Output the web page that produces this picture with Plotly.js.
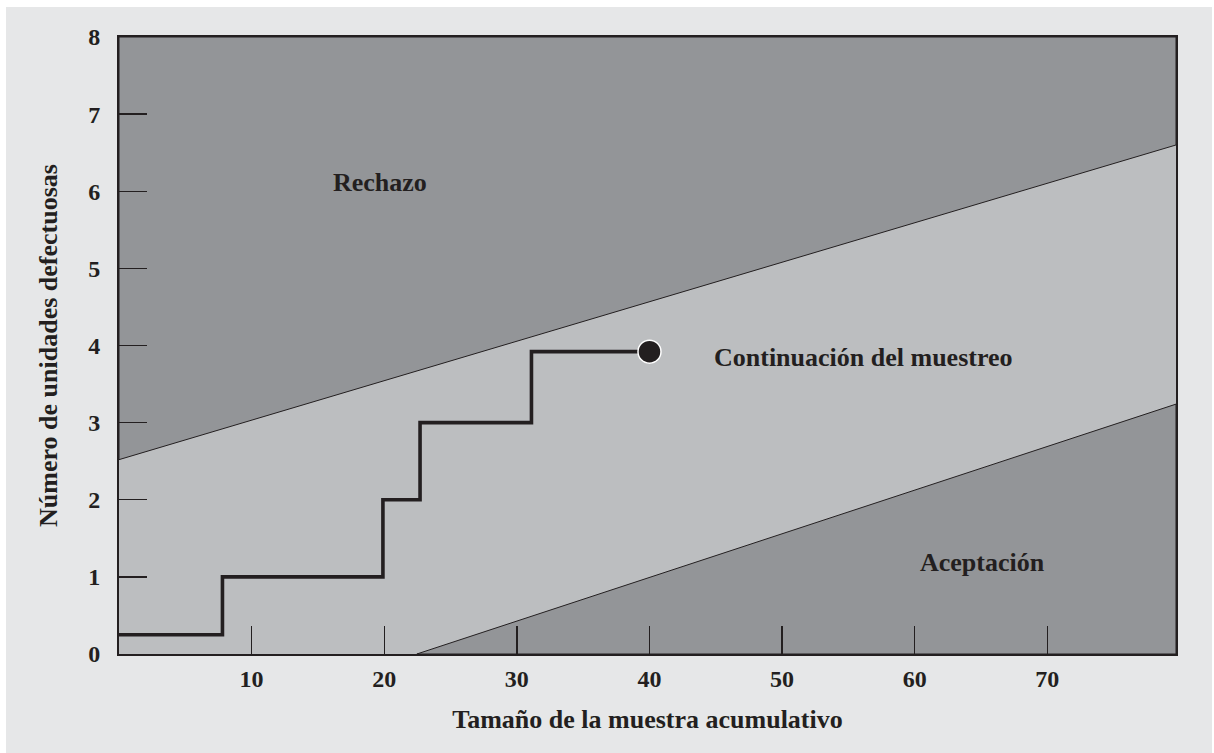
<!DOCTYPE html>
<html>
<head>
<meta charset="utf-8">
<script src="https://cdn.plot.ly/plotly-3.0.1.min.js"></script>
<style>
  html, body { margin: 0; padding: 0; background: #ffffff; }
  #chart { position: absolute; left: 6px; top: 7px; width: 1206px; height: 746px; }
</style>
</head>
<body>
<div id="chart"></div>
<script>
// Axis ranges
var xRange = [0, 79.7];
var yRange = [0, 8];

// Rejection (upper) limit line
var upperX = [0, 79.7];
var upperY = [2.52, 6.6];

// Acceptance (lower) limit line
var lowerX = [22.46, 79.7];
var lowerY = [0, 3.24];

// Cumulative defective count (step path)
var stepX = [0, 7.8, 19.9, 22.7, 31.1, 40];
var stepY = [0.25, 1.0, 2.0, 3.0, 3.92, 3.92];

// Current point
var pointX = [40];
var pointY = [3.92];

// Tick labels
var xTicks = [10, 20, 30, 40, 50, 60, 70];
var yTicks = [0, 1, 2, 3, 4, 5, 6, 7, 8];

// Region labels
var regionLabels = ['Rechazo', 'Continuación del muestreo', 'Aceptación'];
var regionX = [19.7, 56.1, 65.1];
var regionY = [6.11, 3.84, 1.18];

var ink = '#231f20';
var dark = '#939598';
var light = '#bcbec0';
var fontFam = 'Liberation Serif, Times New Roman, serif';

var traces = [
  { // rejection region
    x: [upperX[0], upperX[1], upperX[1], upperX[0], upperX[0]],
    y: [upperY[0], upperY[1], yRange[1], yRange[1], upperY[0]],
    mode: 'lines', fill: 'toself', fillcolor: dark,
    line: { color: ink, width: 1 }, hoverinfo: 'skip', showlegend: false
  },
  { // acceptance region
    x: [lowerX[0], lowerX[1], lowerX[1], lowerX[0]],
    y: [lowerY[0], lowerY[1], yRange[0], lowerY[0]],
    mode: 'lines', fill: 'toself', fillcolor: dark,
    line: { color: ink, width: 1 }, hoverinfo: 'skip', showlegend: false
  },
  { // step path
    x: stepX, y: stepY, mode: 'lines',
    line: { color: ink, width: 3.6, shape: 'hv' },
    hoverinfo: 'skip', showlegend: false
  },
  { // marker
    x: pointX, y: pointY, mode: 'markers',
    marker: { size: 23, color: ink, line: { color: '#ffffff', width: 1.5 } },
    hoverinfo: 'skip', showlegend: false
  }
];

var annotations = regionLabels.map(function (t, i) {
  return {
    x: regionX[i], y: regionY[i], xref: 'x', yref: 'y', text: t,
    showarrow: false, xanchor: 'center', yanchor: 'middle',
    font: { family: fontFam, size: 26, color: ink, weight: 'bold' }
  };
});

var layout = {
  width: 1206, height: 746,
  paper_bgcolor: '#e6e7e8',
  plot_bgcolor: light,
  margin: { l: 113, r: 36, t: 30, b: 99 },
  font: { family: fontFam, color: ink, size: 24, weight: 'bold' },
  xaxis: {
    range: xRange, tickvals: xTicks, ticktext: xTicks.map(String),
    ticks: 'inside', ticklen: 28, tickwidth: 1.3, tickcolor: ink,
    showgrid: false, zeroline: false,
    showline: true, linecolor: ink, linewidth: 2, mirror: true,
    ticklabelstandoff: 2,
    tickfont: { family: fontFam, size: 24, color: ink, weight: 'bold' },
    title: { text: 'Tamaño de la muestra acumulativo', standoff: 19,
             font: { family: fontFam, size: 26, color: ink, weight: 'bold' } }
  },
  yaxis: {
    range: yRange, tickvals: yTicks, ticktext: yTicks.map(String),
    ticks: 'inside', ticklen: 28, tickwidth: 1.3, tickcolor: ink,
    showgrid: false, zeroline: false,
    showline: true, linecolor: ink, linewidth: 2, mirror: true,
    ticklabelstandoff: 12,
    tickfont: { family: fontFam, size: 24, color: ink, weight: 'bold' },
    title: { text: 'Número de unidades defectuosas', standoff: 23,
             font: { family: fontFam, size: 26, color: ink, weight: 'bold' } }
  },
  annotations: annotations,
  showlegend: false
};

Plotly.newPlot('chart', traces, layout, { displayModeBar: false, staticPlot: true });
</script>
</body>
</html>
